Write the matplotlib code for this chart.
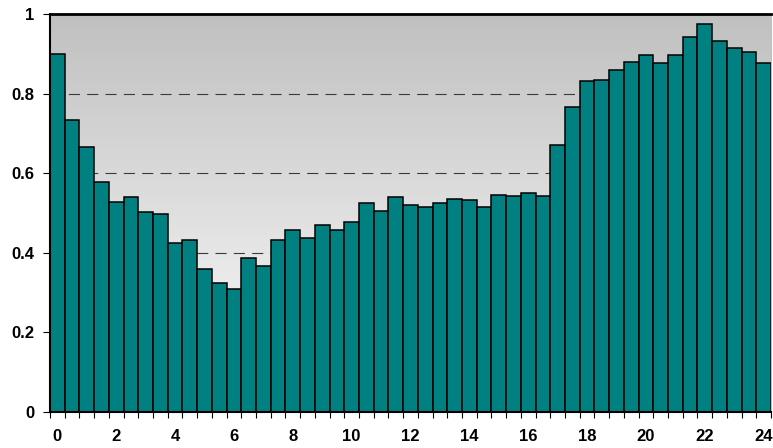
import numpy as np
import matplotlib
matplotlib.use("Agg")
import matplotlib.pyplot as plt
from matplotlib.ticker import FixedLocator, FixedFormatter

# half-hourly values, 0:00 .. 24:00
hours = [i * 0.5 for i in range(49)]
values = [0.899, 0.734, 0.667, 0.579, 0.527, 0.541, 0.502, 0.498, 0.424, 0.433,
          0.359, 0.323, 0.309, 0.387, 0.368, 0.433, 0.457, 0.438, 0.470, 0.457,
          0.478, 0.526, 0.505, 0.540, 0.519, 0.515, 0.526, 0.536, 0.533, 0.515,
          0.544, 0.543, 0.551, 0.543, 0.670, 0.767, 0.832, 0.834, 0.859, 0.880,
          0.898, 0.877, 0.898, 0.943, 0.975, 0.933, 0.915, 0.905, 0.877]
x_labels = ["0", "2", "4", "6", "8", "10", "12", "14", "16", "18", "20", "22", "24"]
y_ticks = [0, 0.2, 0.4, 0.6, 0.8, 1]
y_labels = ["0", "0.2", "0.4", "0.6", "0.8", "1"]

plt.rcParams['font.family'] = ['Liberation Sans', 'DejaVu Sans']

fig = plt.figure(figsize=(7.73, 4.48), dpi=100)
ax = fig.add_axes([50 / 773, 1 - 412 / 448, 721 / 773, 398 / 448])

pos = np.arange(len(values))
ax.set_xlim(-0.5, len(values) - 0.5)
ax.set_ylim(0, 1)

# grey gradient background (dark at top, white at bottom)
grad = np.linspace(0, 1, 256).reshape(-1, 1)
ax.imshow(grad, extent=(-0.5, len(values) - 0.5, 0, 1), aspect='auto',
          cmap=matplotlib.colors.LinearSegmentedColormap.from_list("g", ["#ffffff", "#c0c0c0"]),
          origin='lower', zorder=0)

for yv in [0.2, 0.4, 0.6, 0.8]:
    ax.axhline(yv, color='#3a3a3a', lw=0.8, linestyle=(0, (10, 6.5)), zorder=1)

ax.bar(pos, values, width=1.0, color='#008080', edgecolor='black', linewidth=1.1, zorder=2)

# x: labels under every 4th bar, tick marks on bar edges
ax.xaxis.set_major_locator(FixedLocator(pos[::4]))
ax.xaxis.set_major_formatter(FixedFormatter(x_labels))
ax.xaxis.set_minor_locator(FixedLocator(np.arange(-0.5, len(values), 1.0)))
ax.tick_params(axis='x', which='major', length=0, pad=12)
ax.tick_params(axis='x', which='minor', length=4, width=0.8, direction='out')

ax.set_yticks(y_ticks)
ax.set_yticklabels(y_labels)
ax.tick_params(axis='y', length=5, width=0.8, direction='out', pad=6)

for lab in ax.get_xticklabels() + ax.get_yticklabels():
    lab.set_fontweight('bold')
    lab.set_fontsize(12)

ax.spines['top'].set_linewidth(2)
ax.spines['left'].set_linewidth(1.5)
ax.spines['bottom'].set_linewidth(1.5)
ax.spines['right'].set_color('#c0c0c0')

fig.savefig("out.png", dpi=100)
